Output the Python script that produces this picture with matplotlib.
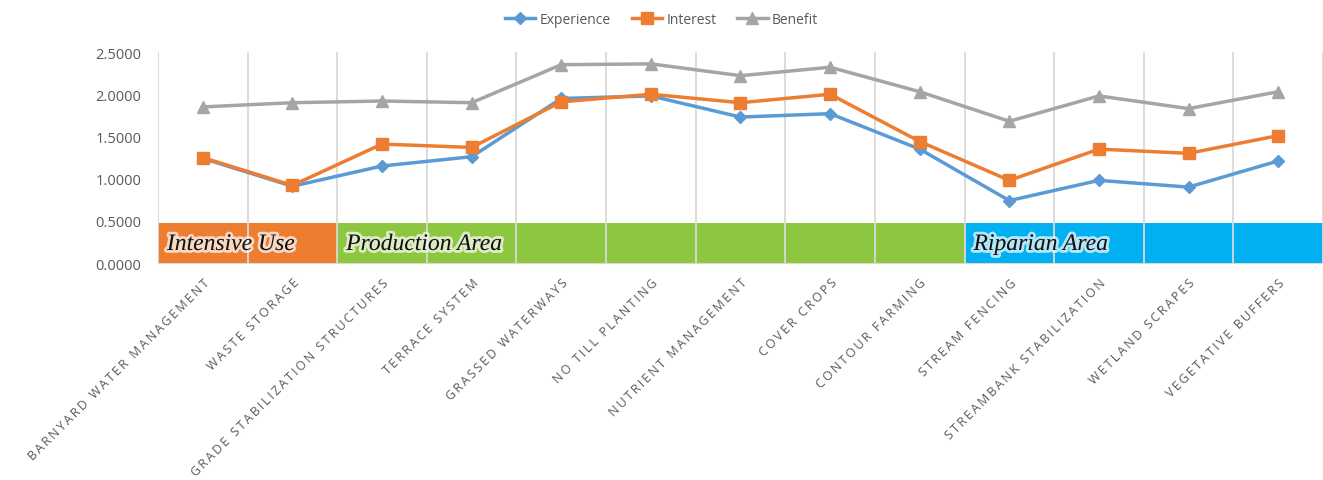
import matplotlib
matplotlib.use("Agg")
import matplotlib.pyplot as plt
import matplotlib.patheffects as pe
import numpy as np

categories = [
    "BARNYARD WATER MANAGEMENT", "WASTE STORAGE", "GRADE STABILIZATION STRUCTURES",
    "TERRACE SYSTEM", "GRASSED WATERWAYS", "NO TILL PLANTING", "NUTRIENT MANAGEMENT",
    "COVER CROPS", "CONTOUR FARMING", "STREAM FENCING", "STREAMBANK STABILIZATION",
    "WETLAND SCRAPES", "VEGETATIVE BUFFERS",
]
experience = [1.24, 0.91, 1.15, 1.26, 1.95, 1.98, 1.73, 1.77, 1.35, 0.74, 0.98, 0.90, 1.21]
interest = [1.25, 0.92, 1.41, 1.37, 1.91, 2.00, 1.90, 2.00, 1.44, 0.98, 1.35, 1.30, 1.51]
benefit = [1.85, 1.90, 1.92, 1.90, 2.35, 2.36, 2.22, 2.32, 2.03, 1.68, 1.98, 1.83, 2.03]

# area groups: (label, first index, last index, colour)
areas = [
    ("Intensive Use", 0, 1, "#ED7D31"),
    ("Production Area", 2, 8, "#8DC63F"),
    ("Riparian Area", 9, 12, "#00B0F0"),
]
band_top = 0.48

fig = plt.figure(figsize=(13.23, 4.81), dpi=100)
ax = fig.add_axes([0.1194, 0.451, 0.8806, 0.4387])

x = np.arange(len(categories))

# coloured area bands
for label, i0, i1, col in areas:
    ax.fill_between([i0 - 0.5, i1 + 0.5], 0, band_top, color=col, zorder=1, linewidth=0)
    ax.text(i0 - 0.4, band_top / 2 - 0.02, label, fontsize=17, style="italic",
            family="Liberation Serif", color="#111111", va="center", ha="left", zorder=5,
            path_effects=[pe.withStroke(linewidth=4, foreground="white", alpha=0.7)])

# vertical grid at category boundaries
for b in np.arange(-0.5, len(categories) + 0.5, 1):
    ax.axvline(b, color="#D9D9D9", lw=1.3, zorder=2)

ax.plot(x, experience, color="#5B9BD5", lw=2.5, marker="D", ms=6, label="Experience", zorder=4)
ax.plot(x, interest, color="#ED7D31", lw=2.5, marker="s", ms=8, label="Interest", zorder=4)
ax.plot(x, benefit, color="#A5A5A5", lw=2.5, marker="^", ms=8, label="Benefit", zorder=3)

ax.set_xlim(-0.5, len(categories) - 0.5)
ax.set_ylim(0, 2.5)
ax.set_yticks(np.arange(0, 2.51, 0.5))
ax.set_yticklabels([f"{v:.4f}" for v in np.arange(0, 2.51, 0.5)], fontsize=10.5,
                   color="#595959", family="Open Sans")
ax.set_xticks(x)
# spaced-out capitals like the original axis labels
spaced = ["\u2009".join(c) for c in categories]
ax.set_xticklabels(spaced, rotation=45, ha="right", rotation_mode="anchor",
                   fontsize=9, color="#595959", family=["Open Sans", "DejaVu Sans"])
ax.tick_params(axis="both", length=0, pad=12)
ax.tick_params(axis="x", pad=9)
for s in ["top", "right", "left"]:
    ax.spines[s].set_visible(False)
ax.spines["bottom"].set_color("#D9D9D9")

fig.legend(loc="upper center", bbox_to_anchor=(0.5, 1.0), ncol=3, frameon=False,
           prop={"family": "Open Sans", "size": 10}, handlelength=2.2, columnspacing=1.5,
           handletextpad=0.3, labelcolor="#595959")

fig.savefig("out.png", dpi=100)
